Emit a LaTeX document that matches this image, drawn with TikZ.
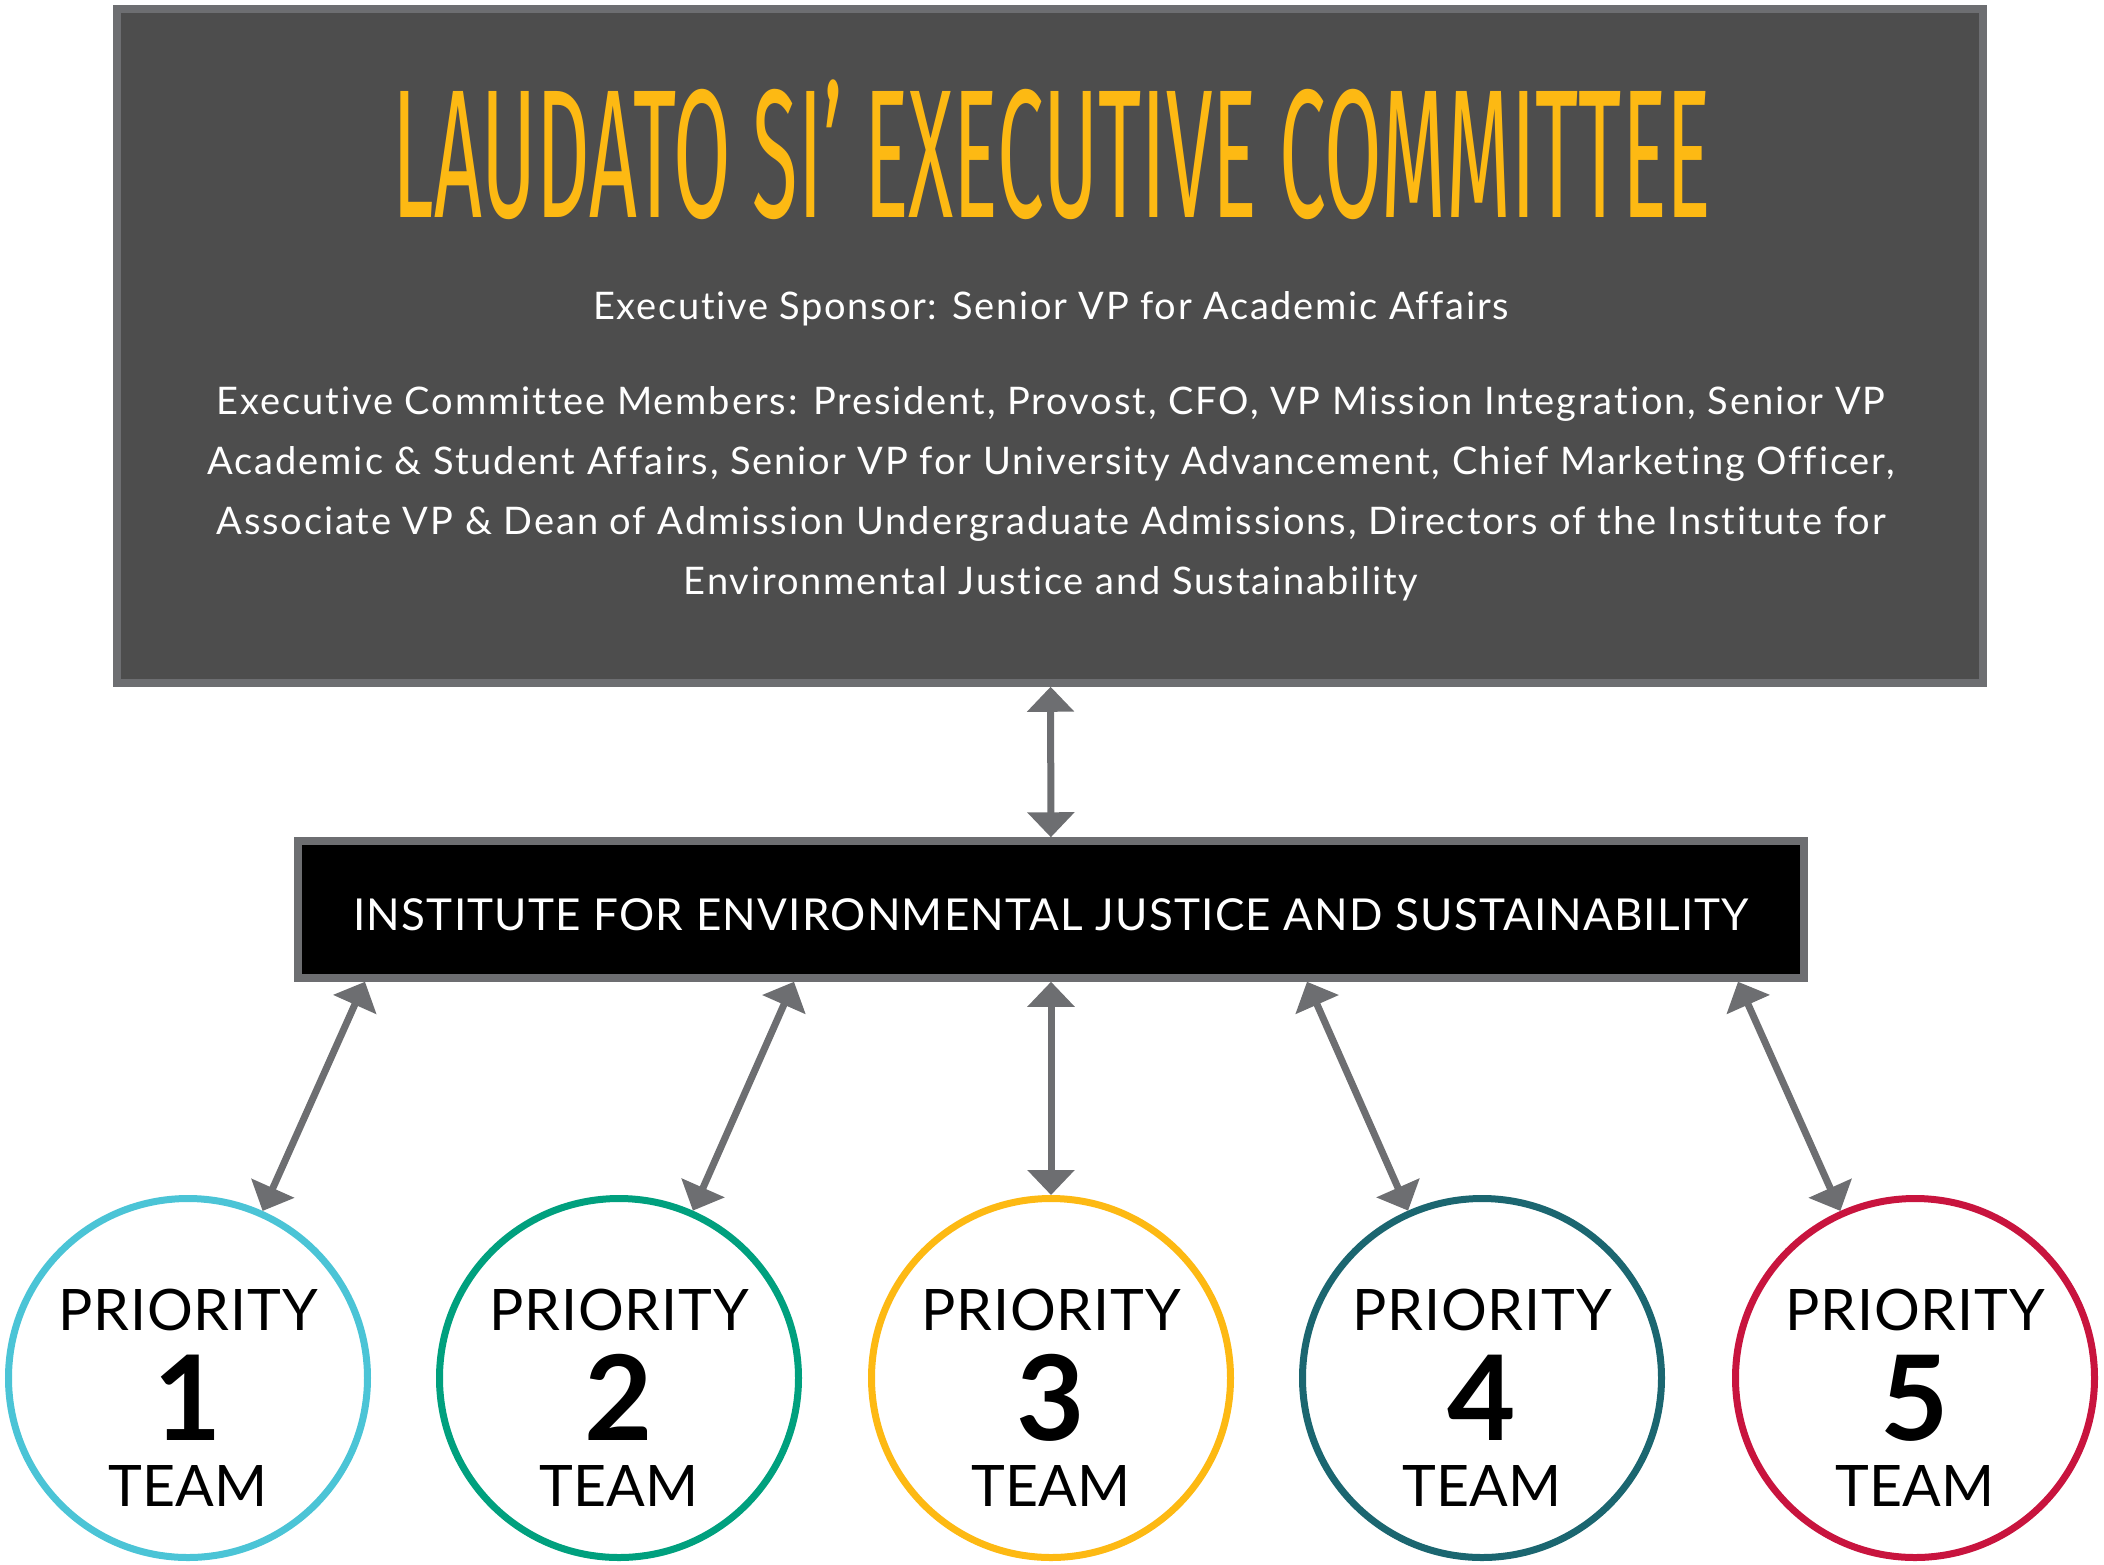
\documentclass[tikz,border=0pt]{standalone}
\usepackage{fontspec}
\usepackage{graphicx}
\usetikzlibrary{arrows.meta}
\setmainfont{Lato}[Ligatures=NoCommon]
\newfontfamily\titlefont{Fira Sans}
\newcommand{\spaced}[1]{\addfontfeatures{LetterSpace=#1}}

\definecolor{lsgold}{HTML}{FDB913}
\definecolor{lsgray}{HTML}{6D6E71}
\definecolor{lsdark}{HTML}{4D4D4D}
\definecolor{teamone}{HTML}{4BC4D6}
\definecolor{teamtwo}{HTML}{00A07E}
\definecolor{teamthree}{HTML}{FDB913}
\definecolor{teamfour}{HTML}{1B6670}
\definecolor{teamfive}{HTML}{C8143E}

\begin{document}
\begin{tikzpicture}[x=0.5pt,y=-0.5pt,
			exec box/.style={rectangle,draw=lsgray,line width=3.75pt,fill=lsdark,minimum width=933pt,minimum height=337pt,inner sep=0pt},
			inst box/.style={rectangle,draw=lsgray,line width=3.75pt,fill=black,minimum width=753pt,minimum height=68.5pt,inner sep=0pt},
			team node/.style={circle,line width=3.5pt,fill=white,minimum size=179.5pt,inner sep=0pt},
			link/.style={{Triangle[width=23pt,length=12.5pt]}-{Triangle[width=23pt,length=12.5pt]},draw=lsgray,fill=lsgray,line width=3.5pt},
			white text/.style={text=white,inner sep=0pt,anchor=base}
			]
			
			\useasboundingbox (0,0) rectangle (2104,1564);
			
			\node[exec box] (exec) at (1050,346) {};
			\node[white text,text=lsgold] (title) at (1052,217) {\resizebox{659pt}{63pt}{\titlefont\vphantom{E}\smash{LAUDATO SI’ EXECUTIVE COMMITTEE}}};
			\node[white text,font=\fontsize{19pt}{23pt}\selectfont\spaced{4.5}] (sponsor) at (1051,319) {Executive Sponsor: Senior VP for Academic Affairs};
			% base of a multi-line node sits on its last line
			\node[white text,align=center,font=\fontsize{19pt}{29.9pt}\selectfont\spaced{5}] (members) at (1051,594) {Executive Committee Members: President, Provost, CFO, VP Mission Integration, Senior VP\\
				Academic \& Student Affairs, Senior VP for University Advancement, Chief Marketing Officer,\\
				Associate VP \& Dean of Admission Undergraduate Admissions, Directors of the Institute for\\
				Environmental Justice and Sustainability};
			
			\node[inst box] (inst) at (1051,909.5) {};
			\node[white text,font=\fontsize{22pt}{26pt}\selectfont\spaced{2.8}] (instname) at (1051,930) {INSTITUTE FOR ENVIRONMENTAL JUSTICE AND SUSTAINABILITY};
			
			\draw[link] (exec) -- (inst);
			
			\foreach \i/\x/\col in {1/188/teamone,2/619/teamtwo,3/1051/teamthree,4/1482/teamfour,5/1915/teamfive} {
				\node[team node,draw=\col] (t\i) at (\x,1378) {};
				\node[anchor=base,inner sep=0pt,font=\fontsize{28.6pt}{30pt}\selectfont\spaced{1.5}] (p\i) at (\x,1330) {PRIORITY};
				\node[anchor=base,inner sep=0pt,font=\fontsize{59pt}{60pt}\selectfont\bfseries] (n\i) at (\x,1440) {\i};
				\node[anchor=base,inner sep=0pt,font=\fontsize{28.6pt}{30pt}\selectfont] (m\i) at (\x,1506) {TEAM};
			}
			
			\foreach \i/\dx in {1/-343pt,2/-128.5pt,3/0pt,4/128pt,5/343.5pt}
				\draw[link] ([xshift=\dx]inst.south) -- (t\i);
			
		\end{tikzpicture}
\end{document}
